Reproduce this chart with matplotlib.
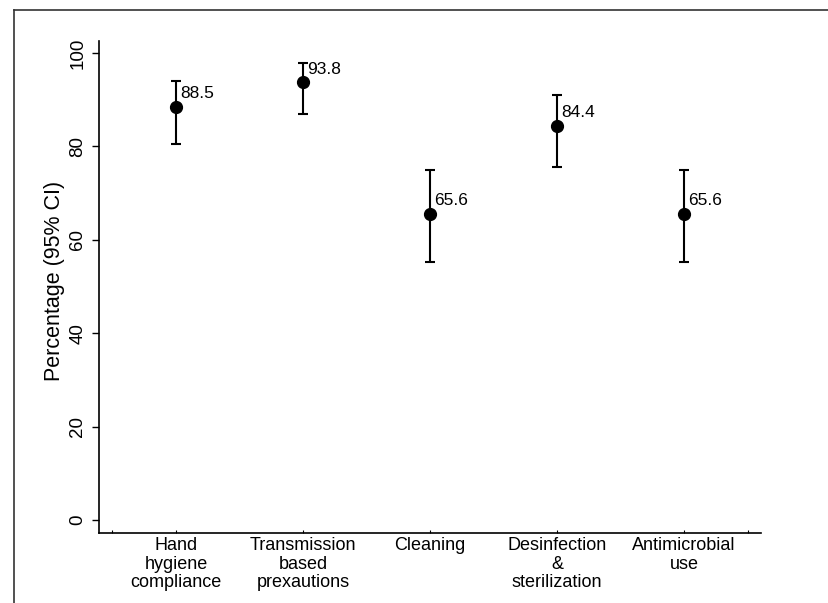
import matplotlib.pyplot as plt
from matplotlib.lines import Line2D

plt.rcParams['font.family'] = ['Liberation Sans', 'DejaVu Sans']

# Data
categories = ["Hand\nhygiene\ncompliance", "Transmission\nbased\nprexautions", "Cleaning",
              "Desinfection\n&\nsterilization", "Antimicrobial\nuse"]
pct = [88.5, 93.8, 65.6, 84.4, 65.6]
ci_low = [80.5, 86.9, 55.3, 75.6, 55.3]
ci_high = [94.1, 97.8, 75.0, 91.1, 75.0]
labels = ["88.5", "93.8", "65.6", "84.4", "65.6"]

x = list(range(1, len(categories) + 1))
err_lo = [p - l for p, l in zip(pct, ci_low)]
err_hi = [h - p for p, h in zip(pct, ci_high)]

fig = plt.figure(figsize=(8.29, 6.03), dpi=100)
ax = fig.add_axes([99 / 829, 1 - 533 / 603, (761 - 99) / 829, (533 - 41) / 603])

ax.errorbar(x, pct, yerr=[err_lo, err_hi], fmt='o', color='black', ecolor='black',
            markersize=8.5, elinewidth=1.5, capsize=3.8, capthick=1.5)

for xi, p, lab in zip(x, pct, labels):
    ax.annotate(lab, (xi, p), xytext=(3, 4), textcoords='offset points',
                ha='left', va='bottom', fontsize=12.5)

ax.set_xlim(0.394, 5.606)
ax.set_ylim(-2.8, 102.6)

ax.set_yticks([0, 20, 40, 60, 80, 100])
ax.set_yticklabels(["0", "20", "40", "60", "80", "100"], rotation=90, va='center', fontsize=13.5)
ax.tick_params(axis='y', direction='out', length=5, width=1, pad=4)

ax.set_xticks([0.5] + x + [5.5])
ax.set_xticklabels([""] + categories + [""], fontsize=13, linespacing=1.12)
ax.tick_params(axis='x', direction='in', length=2, width=0.8, pad=3)

ax.set_ylabel("Percentage (95% CI)", fontsize=15.5, labelpad=3)
ax.yaxis.label.set_y(0.512)

ax.spines['top'].set_visible(False)
ax.spines['right'].set_visible(False)
ax.spines['left'].set_linewidth(1.2)
ax.spines['bottom'].set_linewidth(1.2)

# outer frame edges visible in the reference (top and left)
fig.add_artist(Line2D([14 / 829, 1], [1 - 10 / 603, 1 - 10 / 603], color='#333333', lw=1.2))
fig.add_artist(Line2D([14 / 829, 14 / 829], [0, 1 - 10 / 603], color='#333333', lw=1.2))

fig.savefig("out.png", dpi=100)
